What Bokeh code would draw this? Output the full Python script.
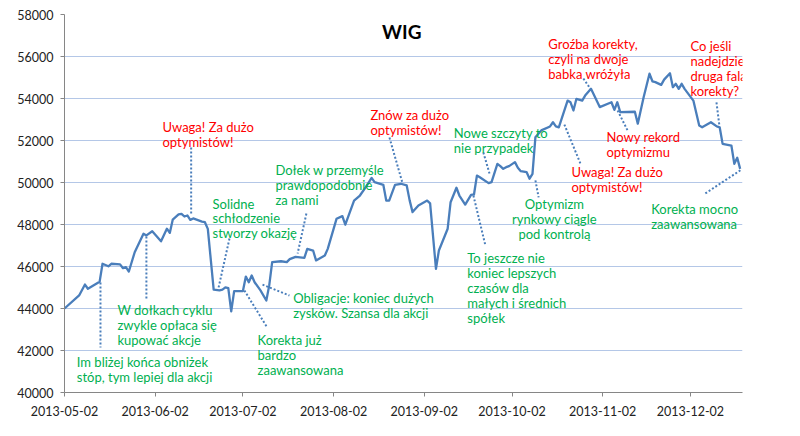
from datetime import datetime, timedelta
from bokeh.plotting import figure
from bokeh.models import FixedTicker, DatetimeTickFormatter, Range1d, ColumnDataSource
from bokeh.embed import file_html
from bokeh.resources import INLINE
from bokeh.core.properties import value

# ---------------- data ----------------
title_text = "WIG"

dates = [
    "2013-05-02", "2013-05-07", "2013-05-09", "2013-05-10", "2013-05-14", "2013-05-15", "2013-05-17", "2013-05-18",
    "2013-05-21", "2013-05-22", "2013-05-23", "2013-05-24", "2013-05-26", "2013-05-29", "2013-05-30", "2013-06-01",
    "2013-06-04", "2013-06-06", "2013-06-07", "2013-06-08", "2013-06-10", "2013-06-11", "2013-06-12", "2013-06-13",
    "2013-06-14", "2013-06-15", "2013-06-18", "2013-06-19", "2013-06-20", "2013-06-22", "2013-06-24", "2013-06-25",
    "2013-06-26", "2013-06-27", "2013-06-28", "2013-06-29", "2013-07-02", "2013-07-03", "2013-07-04", "2013-07-05",
    "2013-07-06", "2013-07-08", "2013-07-10", "2013-07-11", "2013-07-12", "2013-07-15", "2013-07-17", "2013-07-18",
    "2013-07-20", "2013-07-23", "2013-07-24", "2013-07-26", "2013-07-27", "2013-07-30", "2013-07-31", "2013-08-03",
    "2013-08-05", "2013-08-06", "2013-08-09", "2013-08-11", "2013-08-13", "2013-08-15", "2013-08-16", "2013-08-19",
    "2013-08-20", "2013-08-21", "2013-08-23", "2013-08-25", "2013-08-27", "2013-08-28", "2013-08-29", "2013-08-31",
    "2013-09-03", "2013-09-04", "2013-09-06", "2013-09-07", "2013-09-10", "2013-09-11", "2013-09-13", "2013-09-14",
    "2013-09-16", "2013-09-18", "2013-09-19", "2013-09-20", "2013-09-21", "2013-09-24", "2013-09-25", "2013-09-27",
    "2013-09-28", "2013-09-29", "2013-09-30", "2013-10-01", "2013-10-03", "2013-10-04", "2013-10-05", "2013-10-07",
    "2013-10-08", "2013-10-09", "2013-10-10", "2013-10-12", "2013-10-15", "2013-10-16", "2013-10-17", "2013-10-18",
    "2013-10-21", "2013-10-22", "2013-10-23", "2013-10-24", "2013-10-26", "2013-10-27", "2013-10-29", "2013-11-01",
    "2013-11-05", "2013-11-06", "2013-11-07", "2013-11-08", "2013-11-13", "2013-11-14", "2013-11-16", "2013-11-18",
    "2013-11-19", "2013-11-20", "2013-11-22", "2013-11-23", "2013-11-25", "2013-11-26", "2013-11-27", "2013-11-28",
    "2013-11-29", "2013-11-30", "2013-12-03", "2013-12-05", "2013-12-06", "2013-12-09", "2013-12-11", "2013-12-12",
    "2013-12-13", "2013-12-16", "2013-12-17", "2013-12-18", "2013-12-19",
]

wig = [
    44000, 44620, 45140, 44940, 45270, 46130, 46010, 46130,
    46100, 45920, 45970, 45760, 46680, 47560, 47480, 47680,
    47200, 47800, 47600, 48230, 48480, 48510, 48380, 48430,
    48220, 48290, 48140, 48110, 47790, 44900, 44860, 44900,
    45010, 44970, 43860, 44830, 44830, 45520, 45250, 45570,
    45250, 44860, 44380, 45100, 46210, 46250, 46210, 46350,
    46460, 46410, 46840, 46760, 46290, 46520, 46840, 48270,
    48400, 47990, 49140, 49380, 49780, 50220, 50020, 49890,
    49140, 49140, 49890, 49940, 49860, 49150, 48590, 48910,
    49140, 49010, 45890, 46760, 47800, 49060, 49750, 49380,
    48950, 49410, 49430, 50330, 50250, 49970, 50020, 50890,
    50780, 50650, 50730, 50780, 50970, 50700, 50540, 50490,
    50180, 50410, 52160, 52480, 52670, 52870, 52670, 52630,
    53900, 53820, 53430, 53980, 53900, 54140, 54460, 53590,
    53820, 53460, 53820, 53350, 53370, 52800, 54060, 55180,
    54820, 54780, 54650, 54900, 55200, 54540, 54700, 54460,
    54700, 54460, 53900, 52710, 52630, 52870, 52670, 52630,
    51840, 51760, 50890, 51180, 50650,
]

x_tick_labels = ["2013-05-02", "2013-06-02", "2013-07-02", "2013-08-02",
                 "2013-09-02", "2013-10-02", "2013-11-02", "2013-12-02"]
y_ticks = [40000, 42000, 44000, 46000, 48000, 50000, 52000, 54000, 56000, 58000]

# annotation texts and their colour kind
note_lines = [
    ["Uwaga! Za dużo", "optymistów!"],
    ["Solidne", "schłodzenie", "stworzy okazję"],
    ["W dołkach cyklu", "zwykle opłaca się", "kupować akcje"],
    ["Im bliżej końca obniżek", "stóp, tym lepiej dla akcji"],
    ["Korekta już", "bardzo", "zaawansowana"],
    ["Obligacje: koniec dużych", "zysków. Szansa dla akcji"],
    ["Dołek w przemyśle", "prawdopodobnie", "za nami"],
    ["Znów za dużo", "optymistów!"],
    ["Nowe szczyty to", "nie przypadek"],
    ["To jeszcze nie", "koniec lepszych", "czasów dla", "małych i średnich", "spółek"],
    ["Optymizm", "rynkowy ciągle", "pod kontrolą"],
    ["Groźba korekty,", "czyli na dwoje", "babka wróżyła"],
    ["Uwaga! Za dużo", "optymistów!"],
    ["Nowy rekord", "optymizmu"],
    ["Co jeśli", "nadejdzie", "druga fala", "korekty?"],
    ["Korekta mocno", "zaawansowana"],
]
note_kind = ["warn", "ok", "ok", "ok", "ok", "ok", "ok", "warn",
             "ok", "ok", "ok", "warn", "warn", "warn", "warn", "ok"]

# ---------------- layout of annotations (days after start, index level) ----------------
note_anchor = [
    (33.5, 52620), (50.6, 49000), (18.1, 43950), (4.2, 41440),
    (66.0, 42480), (78.2, 44490), (72.1, 50600), (104.6, 53220),
    (133.1, 52380), (137.7, 46410), (167.5, 48990), (165.4, 56600),
    (173.3, 50490), (185.3, 52160), (214.0, 56480), (200.6, 48720),
]
note_align = ["left"] * 10 + ["center"] + ["left"] * 5
leaders = [
    (43.3, 51670, 43.3, 48520), (56.4, 47330, 52.6, 44950), (28.0, 47430, 28.0, 44380),
    (12.3, 45240, 12.3, 42140), (61.5, 44860, 69.1, 43140), (67.7, 45140, 76.9, 44620),
    (82.7, 48520, 79.7, 46620), (111.1, 52140, 115.6, 49950), (143.2, 51430, 145.3, 50430),
    (139.8, 49380, 143.9, 47000), (161.0, 50100, 162.1, 49290), (177.4, 54950, 180.2, 54380),
    (170.9, 52760, 176.4, 50900), (189.1, 53430, 192.5, 52480), (222.9, 53810, 223.9, 52710),
    (219.1, 49480, 231.5, 50620),
]
title_anchor = (115.3, 57190)
line_step = 714  # 15px in index units

kind_color = {"warn": "#FF0000", "ok": "#00B050"}
LINE_BLUE = "#4A7EBB"
FONT = "Lato"

start = datetime(2013, 5, 2)
def day(d):
    return start + timedelta(days=d)

xs = [datetime.strptime(s, "%Y-%m-%d") for s in dates]
tick_ms = [(datetime.strptime(s, "%Y-%m-%d") - datetime(1970, 1, 1)).total_seconds() * 1000
           for s in x_tick_labels]

p = figure(width=784, height=420, x_axis_type="datetime", output_backend="svg",
           toolbar_location=None, tools="",
           x_range=Range1d(day(0), day(231.8)), y_range=Range1d(y_ticks[0], y_ticks[-1]))
p.min_border_left = 64
p.min_border_right = 42
p.min_border_top = 14
p.min_border_bottom = 28
p.outline_line_color = None
p.background_fill_color = "white"
p.border_fill_color = "white"

p.xgrid.grid_line_color = None
p.ygrid.grid_line_color = "#B4C7E7"
p.ygrid.grid_line_width = 1.2

p.yaxis.ticker = FixedTicker(ticks=y_ticks)
p.xaxis.ticker = FixedTicker(ticks=tick_ms)
p.xaxis.formatter = DatetimeTickFormatter(days="%Y-%m-%d", months="%Y-%m-%d", years="%Y-%m-%d")
for ax in (p.xaxis[0], p.yaxis[0]):
    ax.axis_line_color = "#868686"
    ax.major_tick_line_color = "#868686"
    ax.minor_tick_line_color = None
    ax.major_tick_in = 0
    ax.major_tick_out = 4
    ax.major_label_text_font = FONT
    ax.major_label_text_font_size = "12.5px"
    ax.major_label_text_color = "#222222"
p.yaxis.major_label_standoff = 7
p.xaxis.major_label_standoff = 9

# index line
src = ColumnDataSource(dict(x=xs, y=wig))
p.line("x", "y", source=src, line_color=LINE_BLUE, line_width=2.3, line_join="round")

# title
p.text(x=[day(title_anchor[0])], y=[title_anchor[1]], text=[title_text],
       text_font=value(FONT), text_font_size="19px", text_font_style="bold",
       text_color="black", text_align="center", text_baseline="middle")

# leaders
p.segment(x0=[day(l[0]) for l in leaders], y0=[l[1] for l in leaders],
          x1=[day(l[2]) for l in leaders], y1=[l[3] for l in leaders],
          line_color=LINE_BLUE, line_width=2, line_dash="2 2")

# annotation texts
for align in ("left", "center"):
    tx, ty, tt, tc = [], [], [], []
    for lines, kind, (ad, av), al in zip(note_lines, note_kind, note_anchor, note_align):
        if al != align:
            continue
        for i, ln in enumerate(lines):
            tx.append(day(ad)); ty.append(av - i * line_step); tt.append(ln); tc.append(kind_color[kind])
    p.text(x=tx, y=ty, text=tt, text_color=tc, text_font=value(FONT), text_font_size="13px",
           text_align=align, text_baseline="middle")

open("out.html", "w").write(file_html(p, INLINE))
